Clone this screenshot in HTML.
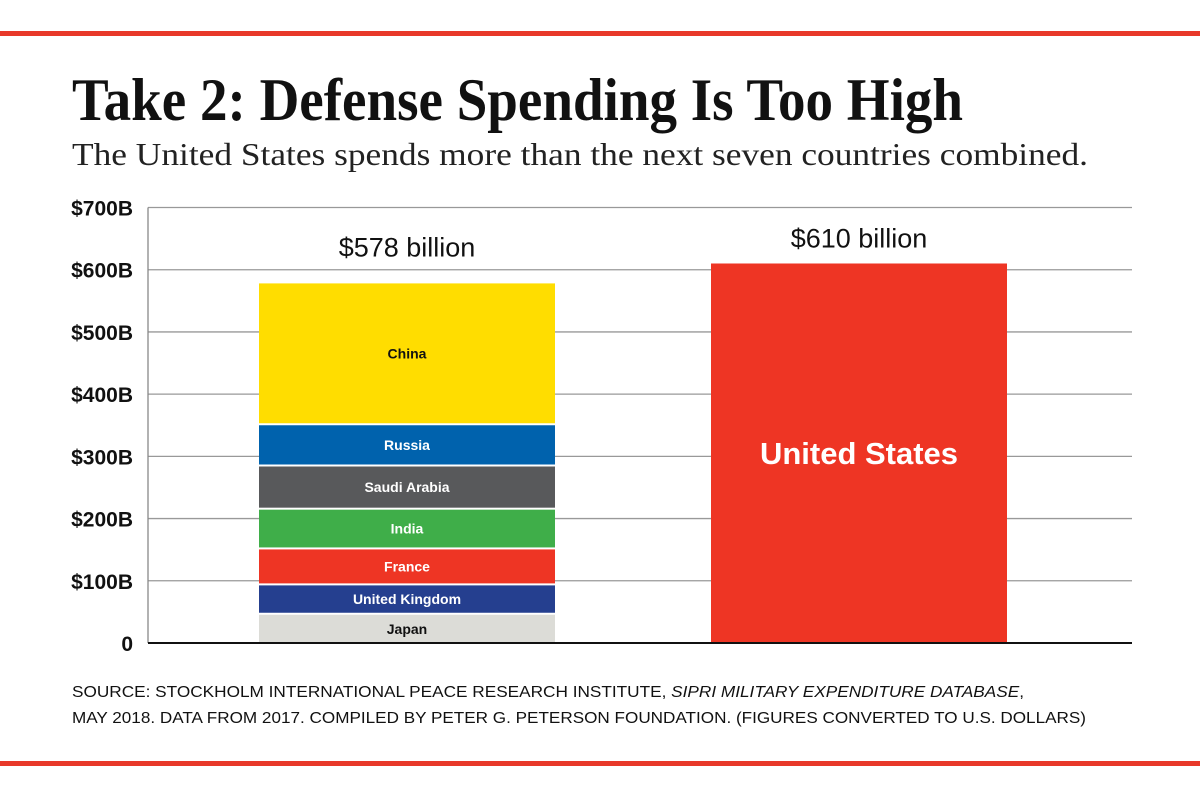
<!DOCTYPE html>
<html><head><meta charset="utf-8">
<style>
html,body{margin:0;padding:0;background:#fff;}
svg{display:block;}
</style></head>
<body>
<svg id="chart" width="1200" height="800" viewBox="0 0 1200 800" xmlns="http://www.w3.org/2000/svg">
  <rect x="0" y="31" width="1200" height="5" fill="#e8392a"/>
  <rect x="0" y="761" width="1200" height="5" fill="#e8392a"/>
  <text x="72" y="120" font-family="Liberation Serif, serif" font-weight="bold" font-size="60" textLength="891" lengthAdjust="spacingAndGlyphs" fill="#111">Take 2: Defense Spending Is Too High</text>
  <text x="72" y="165" font-family="Liberation Serif, serif" font-size="32" textLength="1016" lengthAdjust="spacingAndGlyphs" fill="#222">The United States spends more than the next seven countries combined.</text>
  <g id="grid"></g>
  <g id="bars"></g>
  <g id="axis"></g>
  <text x="72" y="697" font-family="Liberation Sans, sans-serif" font-size="15.5" fill="#111" textLength="952" lengthAdjust="spacingAndGlyphs">SOURCE: STOCKHOLM INTERNATIONAL PEACE RESEARCH INSTITUTE, <tspan font-style="italic">SIPRI MILITARY EXPENDITURE DATABASE</tspan>,</text>
  <text x="72" y="723" font-family="Liberation Sans, sans-serif" font-size="15.5" fill="#111" textLength="1014" lengthAdjust="spacingAndGlyphs">MAY 2018. DATA FROM 2017. COMPILED BY PETER G. PETERSON FOUNDATION. (FIGURES CONVERTED TO U.S. DOLLARS)</text>
</svg>
<script>
const yTicks = [0,100,200,300,400,500,600,700];
const yTickLabels = ["0","$100B","$200B","$300B","$400B","$500B","$600B","$700B"];
const stackCountries = ["Japan","United Kingdom","France","India","Saudi Arabia","Russia","China"];
const stackValues = [45.4,47.2,57.8,63.9,69.4,66.3,228.0];
const stackColors = ["#dcdcd7","#253f8f","#ee3524","#3fae49","#58595b","#0062ad","#ffdd00"];
const stackTextColors = ["#111","#fff","#fff","#fff","#fff","#fff","#111"];
const usValue = [610];
const totalLabels = ["$578 billion","$610 billion"];

const NS="http://www.w3.org/2000/svg";
const y0=643, y700=207.5, xL=148, xR=1132;
function yScale(v){return y0-(v/700)*(y0-y700);}
function mk(tag,attrs,parent){const e=document.createElementNS(NS,tag);for(const k in attrs)e.setAttribute(k,attrs[k]);parent.appendChild(e);return e;}
const grid=document.getElementById('grid'), bars=document.getElementById('bars'), axis=document.getElementById('axis');

yTicks.forEach((t,i)=>{
  if(t>0){
    const l=mk('line',{x1:xL,x2:xR,y1:yScale(t),y2:yScale(t),stroke:'#999','stroke-width':1.3},grid);
    
    
  }
  const tx=mk('text',{x:133,y:yScale(t)+8,'text-anchor':'end','font-family':'Liberation Sans, sans-serif','font-weight':'bold','font-size':21,fill:'#111'},axis);
  tx.textContent=yTickLabels[i];
  
  
});
const ya=mk('line',{x1:xL,x2:xL,y1:y700,y2:y0,stroke:'#888','stroke-width':1.3},axis);


const xa=mk('line',{x1:xL,x2:xR,y1:y0,y2:y0,stroke:'#111','stroke-width':2},axis);



const bx=259,bw=296;
let cum=0;
stackValues.forEach((v,i)=>{
  const top=yScale(cum+v), bot=yScale(cum);
  const gap = i===0?0:2;
  const r=mk('rect',{x:bx,y:top,width:bw,height:Math.max(0,bot-top-gap),fill:stackColors[i]},bars);
  
  
  const t=mk('text',{x:bx+bw/2,y:(top+bot-gap)/2+5,'text-anchor':'middle','font-family':'Liberation Sans, sans-serif','font-weight':'bold','font-size':14,fill:stackTextColors[i]},bars);
  t.textContent=stackCountries[i];
  
  
  cum+=v;
});
const tl=mk('text',{x:bx+bw/2,y:yScale(cum)-27,'text-anchor':'middle','font-family':'Liberation Sans, sans-serif','font-size':27,fill:'#111'},bars);
tl.textContent=totalLabels[0];



const ux=711;
const ub=mk('rect',{x:ux,y:yScale(usValue[0]),width:bw,height:y0-yScale(usValue[0]),fill:'#ee3524'},bars);


const ul=mk('text',{x:ux+bw/2,y:(yScale(usValue[0])+y0)/2+11,'text-anchor':'middle','font-family':'Liberation Sans, sans-serif','font-weight':'bold','font-size':31,fill:'#fff'},bars);
ul.textContent='United States';


const ut=mk('text',{x:ux+bw/2,y:yScale(usValue[0])-16,'text-anchor':'middle','font-family':'Liberation Sans, sans-serif','font-size':27,fill:'#111'},bars);
ut.textContent=totalLabels[1];


</script>
</body></html>
